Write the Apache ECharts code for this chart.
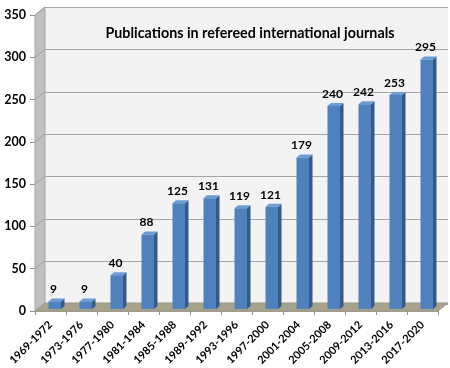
<!DOCTYPE html>
<html>
<head>
<meta charset="utf-8">
<script src="https://cdn.jsdelivr.net/npm/echarts@6/dist/echarts.min.js"></script>
<style>html,body{margin:0;padding:0;background:#fff;}#c{width:450px;height:368px;}</style>
</head>
<body>
<div id="c"></div>
<script>
var titleText = 'Publications in refereed international journals';
var categories = ['1969-1972','1973-1976','1977-1980','1981-1984','1985-1988','1989-1992','1993-1996','1997-2000','2001-2004','2005-2008','2009-2012','2013-2016','2017-2020'];
var values = [9, 9, 40, 88, 125, 131, 119, 121, 179, 240, 242, 253, 295];
var yTicks = [0, 50, 100, 150, 200, 250, 300, 350];

var FONT = 'Lato, "Open Sans", sans-serif';
var DX = 10, DY = -8;

var chart = echarts.init(document.getElementById('c'), null, {renderer: 'canvas'});

function renderWalls(params, api) {
  var cs = params.coordSys;
  var x = cs.x, y = cs.y, w = cs.width, h = cs.height;
  var children = [];
  children.push({type: 'polygon', shape: {points: [[x, y], [x + DX, y + DY], [x + DX, y + h + DY], [x, y + h]]},
    style: {fill: '#c0c0c0', stroke: '#a6a6a6', lineWidth: 1}});
  children.push({type: 'polygon', shape: {points: [[x, y + h], [x + DX, y + h + DY], [x + w + DX, y + h + DY], [x + w, y + h]]},
    style: {fill: '#a6a28b', stroke: '#9c9882', lineWidth: 1}});
  yTicks.forEach(function (v) {
    var yy = api.coord([0, v])[1];
    children.push({type: 'line', shape: {x1: x, y1: yy, x2: x + DX, y2: yy + DY},
      style: {stroke: '#a0a0a0', lineWidth: 1}});
  });
  return {type: 'group', children: children};
}

function renderBar(params, api) {
  var i = api.value(0), v = api.value(1);
  var base = api.coord([i, 0]);
  var top = api.coord([i, v]);
  var cx = base[0];
  var lift = 2;
  var x0 = cx - 2, x1 = cx + 10.5;
  var yb = base[1] - lift, yt = top[1] - lift;
  var sdx = 3.5, sdy = -3;
  return {type: 'group', children: [
    {type: 'polygon', shape: {points: [[x1, yt], [x1 + sdx, yt + sdy], [x1 + sdx, yb + sdy], [x1, yb]]},
      style: {fill: '#345a8c'}},
    {type: 'polygon', shape: {points: [[x0, yt], [x0 + sdx, yt + sdy], [x1 + sdx, yt + sdy], [x1, yt]]},
      style: {fill: '#6d9bd3'}},
    {type: 'rect', shape: {x: x0, y: yt, width: x1 - x0, height: yb - yt},
      style: {fill: '#4f81bd'}},
    {type: 'text', style: {text: String(v), x: cx + 3, y: yt + sdy - 3, align: 'center', verticalAlign: 'bottom',
      font: 'bold 12px ' + FONT, fill: '#000'}}
  ]};
}

var option = {
  animation: false,
  backgroundColor: '#fff',
  title: {text: titleText, left: 245, top: 21, textAlign: 'center',
    textStyle: {fontFamily: FONT, fontWeight: 'bold', fontSize: 14.3, color: '#000'}},
  grid: [
    {left: 35, right: 12, top: 15, bottom: 56, containLabel: false},
    {left: 45, right: 2, top: 7, bottom: 64, show: true, backgroundColor: '#f3f3f3', borderWidth: 0}
  ],
  xAxis: [
    {type: 'category', gridIndex: 0, data: categories,
      axisLine: {show: true, lineStyle: {color: '#a0a0a0'}},
      axisTick: {show: true, length: 4, lineStyle: {color: '#909090'}},
      axisLabel: {rotate: 45, interval: 0, margin: 12, fontFamily: FONT, fontWeight: 'bold', fontSize: 11, color: '#000'}},
    {type: 'category', gridIndex: 1, data: categories, show: false}
  ],
  yAxis: [
    {type: 'value', gridIndex: 0, min: 0, max: 350, interval: 50,
      axisLine: {show: true, lineStyle: {color: '#a0a0a0'}},
      axisTick: {show: true, length: 5, lineStyle: {color: '#909090'}},
      splitLine: {show: false},
      axisLabel: {margin: 9, fontFamily: FONT, fontWeight: 'bold', fontSize: 12.5, color: '#000'}},
    {type: 'value', gridIndex: 1, min: 0, max: 350, interval: 50,
      axisLine: {show: false}, axisTick: {show: false}, axisLabel: {show: false},
      splitLine: {show: true, lineStyle: {color: '#a6a6a6', width: 1}}}
  ],
  series: [
    {type: 'custom', xAxisIndex: 0, yAxisIndex: 0, z: 1, renderItem: renderWalls, data: [[0, 0]], silent: true},
    {type: 'custom', xAxisIndex: 0, yAxisIndex: 0, z: 3, renderItem: renderBar,
      data: values.map(function (v, i) { return [i, v]; })}
  ]
};
chart.setOption(option);
</script>
</body>
</html>
